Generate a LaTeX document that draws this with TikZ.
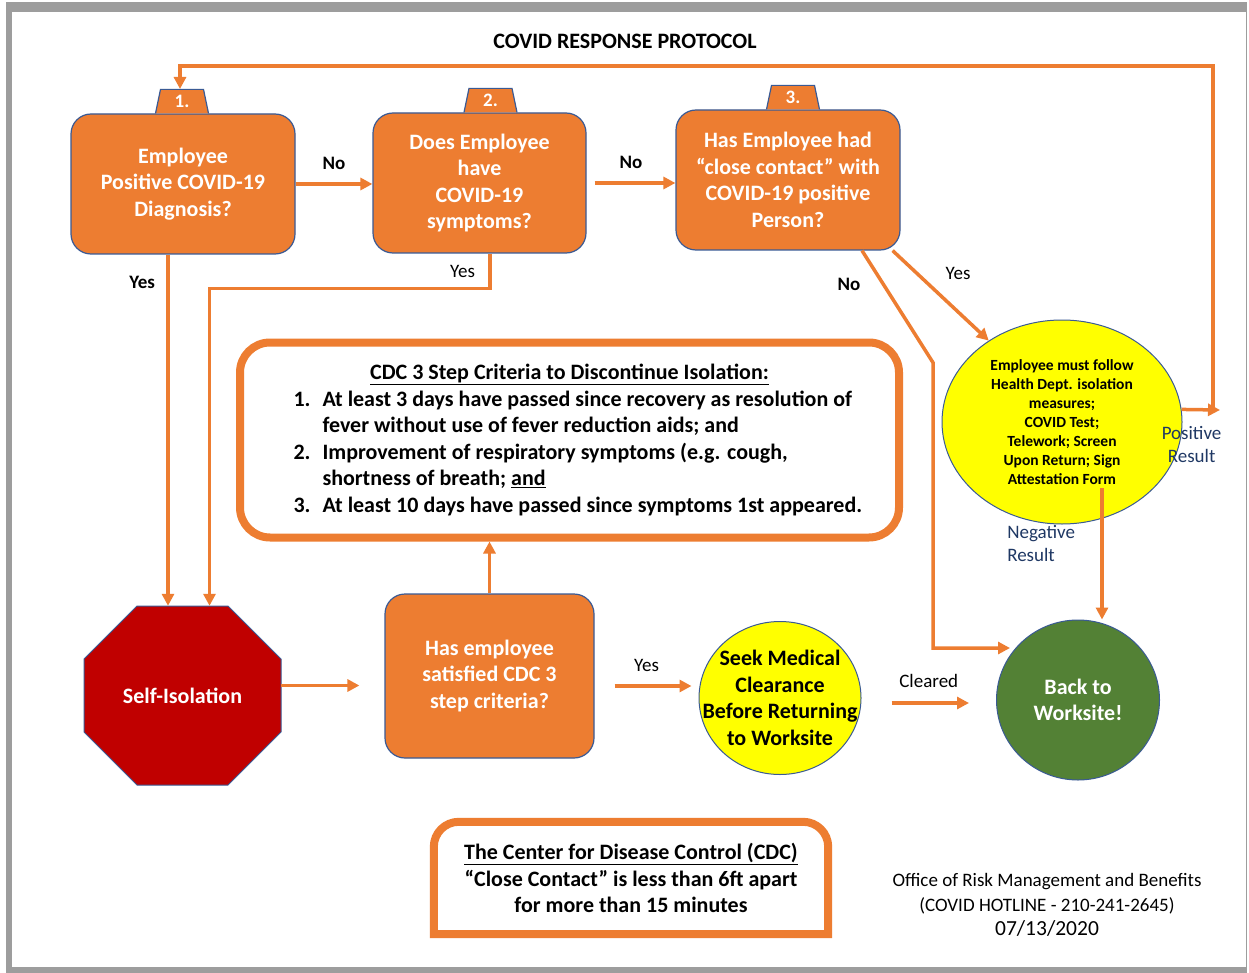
\documentclass[tikz,border=0pt]{standalone}
\usepackage{fontspec}
\setmainfont{Carlito}
\usetikzlibrary{positioning,shapes.geometric,arrows.meta}
\definecolor{cOrange}{HTML}{ED7D31}
\definecolor{cEdge}{HTML}{3A5A94}
\definecolor{cRed}{HTML}{C00000}
\definecolor{cYellow}{HTML}{FFFF00}
\definecolor{cGreen}{HTML}{538135}
\definecolor{cNavy}{HTML}{1F3864}
\definecolor{cFrame}{HTML}{9D9D9D}
\newcommand\bxfont{\fontsize{22}{26.5}\selectfont\bfseries}
\newcommand\lbfont{\fontsize{19}{23}\selectfont}
\begin{document}
\begin{tikzpicture}[x=1pt,y=-1pt,
  qbox/.style={rectangle, rounded corners=20pt, draw=cEdge, line width=1.2pt, fill=cOrange,
    text=white, font=\bxfont, align=center, inner sep=0pt},
  tabbox/.style={rectangle, minimum width=53pt, minimum height=24pt, inner sep=0pt,
    text=white, font=\fontsize{19}{19}\selectfont\bfseries},
  dot/.style={ellipse, draw=cEdge, line width=1pt, inner sep=0pt, align=center},
  crit/.style={rectangle, rounded corners=30pt, draw=cOrange, line width=8pt, align=center, font=\bxfont},
  arr/.style={draw=cOrange, line width=3.5pt, -{Triangle[length=12pt,width=12pt]}},
  lbl/.style={font=\lbfont},
  lblb/.style={font=\lbfont\bfseries},
  res/.style={font=\lbfont, text=cNavy, align=center}]
  \def\octpath{(137,606) -- (228,606) -- (281,659) -- (281,732) -- (228,785) -- (137,785) -- (84,732) -- (84,659) -- cycle}
  % page frame
  \useasboundingbox (0,0) rectangle (1249,973);
  \fill[cFrame] (6,2) rectangle (1247,973);
  \fill[white] (12,12) rectangle (1245.5,967);
  \node[font=\fontsize{22}{22}\selectfont\bfseries] (title) at (625,41) {COVID RESPONSE PROTOCOL};
  % question boxes
  \node[qbox, minimum width=224pt, minimum height=140pt] (b1) at (183,184) {Employee\\Positive COVID-19\\Diagnosis?};
  \node[qbox, minimum width=213pt, minimum height=140pt] (b2) at (479.5,183) {Does Employee\\have\\COVID-19\\symptoms?};
  \node[qbox, minimum width=224pt, minimum height=140pt] (b3) at (788,180) {Has Employee had\\“close contact” with\\COVID-19 positive\\Person?};
  % numbered tabs
  \foreach \b/\dx in {b1/-1,b2/11,b3/5}
    \draw[draw=cEdge, fill=cOrange, line width=1.2pt] ([xshift=\dx pt-26.5pt]\b.north) -- ([xshift=\dx pt-21.5pt,yshift=24pt]\b.north)
      -- ([xshift=\dx pt+21.5pt,yshift=24pt]\b.north) -- ([xshift=\dx pt+26.5pt]\b.north);
  \node[tabbox, above=0pt of b1, xshift=-1pt] (t1) {1.};
  \node[tabbox, above=0pt of b2, xshift=11pt] (t2) {2.};
  \node[tabbox, above=0pt of b3, xshift=5pt] (t3) {3.};
  % self isolation
  \draw[draw=cEdge, fill=cRed, line width=1pt] \octpath;
  \node[minimum width=197pt, minimum height=179pt, text=white, font=\bxfont] (iso) at (182.5,695.5) {Self-Isolation};
  \node[qbox, minimum width=209pt, minimum height=164pt] (b4) at (489.5,676) {Has employee\\satisfied CDC 3\\step criteria?};
  \node[crit, minimum width=659pt, minimum height=195pt] (cdc) at (569.5,440)
    {\underline{CDC 3 Step Criteria to Discontinue Isolation:}\\
     \makebox[552pt][l]{\makebox[29pt][l]{1.}At least 3 days have passed since recovery as resolution of}\\
     \makebox[552pt][l]{\hspace*{29pt}fever without use of fever reduction aids; and}\\
     \makebox[552pt][l]{\makebox[29pt][l]{2.}Improvement of respiratory symptoms (e.g. cough,}\\
     \makebox[552pt][l]{\hspace*{29pt}shortness of breath; \underline{and}}\\
     \makebox[552pt][l]{\makebox[29pt][l]{3.}At least 10 days have passed since symptoms 1st appeared.}};
  % ellipses
  \node[dot, fill=cYellow, minimum width=240pt, minimum height=204pt, font=\fontsize{15.5}{19}\selectfont\bfseries] (ye) at (1062,422)
    {Employee must follow\\Health Dept. isolation\\measures;\\COVID Test;\\Telework; Screen\\Upon Return; Sign\\Attestation Form};
  \node[dot, fill=cYellow, minimum width=162pt, minimum height=153pt,
    label={[name=skt, align=center, font=\bxfont]center:{Seek Medical\\Clearance\\Before Returning\\to Worksite}}] (sk) at (780,698) {};
  \node[dot, fill=cGreen, minimum width=163pt, minimum height=160pt, text=white, font=\bxfont] (g) at (1078,700) {Back to\\Worksite!};
  % connectors
  \draw[arr] (b1.east) -- (b1.east -| b2.west) node[midway, above=9pt, lblb] (no1) {No};
  \draw[arr, shorten <=8pt] (b2.east) -- (b2.east -| b3.west) node[midway, above=9pt, lblb] (no2) {No};
  \draw[arr] ([xshift=-15pt]b1.south) -- ([xshift=-15pt]b1.south |- iso.north) node[pos=0.08, left=8pt, lblb] (yes1) {Yes};
  \draw[arr] ([xshift=10.5pt]b2.south) -- node[left=10pt, lbl] (yes2) {Yes} ++(0,35) -| ([xshift=27pt]iso.north);
  \draw[arr] ([xshift=74pt]b3.south) -- node[pos=0.3, left=18pt, lblb] (no3) {No} ++(71,112) |- ([xshift=-68pt,yshift=52pt]g.center);
  \draw[arr] ([xshift=-8pt]b3.south east) -- (ye.132) node[pos=0.25, right=24pt, lbl] (yes3) {Yes};
  \coordinate (pr) at (1220,410);
  \draw[arr] (ye.6) -- (pr) node[pos=0.26, below=12pt, res] (pos) {Positive\\Result};
  \draw[arr] ([xshift=-7pt]pr) -- ++(0,-344) -| ([xshift=-2pt]t1.north);
  \coordinate (ns) at ([xshift=40pt,yshift=-66pt]ye.center);
  \draw[arr] (ns) -- (ns |- g.north) node[pos=0.42, left=22pt, res, align=left] (neg) {Negative\\Result};
  \draw[arr, shorten >=25pt] ([yshift=10pt]iso.east) -- ([yshift=10pt]iso.east -| b4.west);
  \draw[arr] (b4.north) -- (b4.north |- cdc.south);
  \draw[arr, shorten <=20pt, shorten >=7pt] ([yshift=-10pt]b4.east) -- ([yshift=-10pt]b4.east -| sk.west)
    node[midway, above=9pt, lbl] (yes4) {Yes};
  \draw[arr, shorten <=30pt, shorten >=27pt] ([yshift=-5pt]sk.east) -- ([yshift=-5pt]sk.east -| g.west)
    node[midway, above=10pt, lbl] (clr) {Cleared};
  % footer
  \node[font=\bxfont, align=center, minimum width=394pt, minimum height=112pt] (note) at (631,878)
    {\underline{The Center for Disease Control (CDC)}\\“Close Contact” is less than 6ft apart\\for more than 15 minutes};
  \draw[draw=cOrange, line width=8pt] (note.south west) [rounded corners=25pt] -- (note.north west) -- (note.north east) [sharp corners] -- (note.south east) -- cycle;
  \node[align=center, font=\fontsize{19}{24.5}\selectfont] (office) at (1047,905)
    {Office of Risk Management and Benefits\\(COVID HOTLINE - 210-241-2645)\\{\fontsize{21.5}{24.5}\selectfont 07/13/2020}};
\end{tikzpicture}
\end{document}
